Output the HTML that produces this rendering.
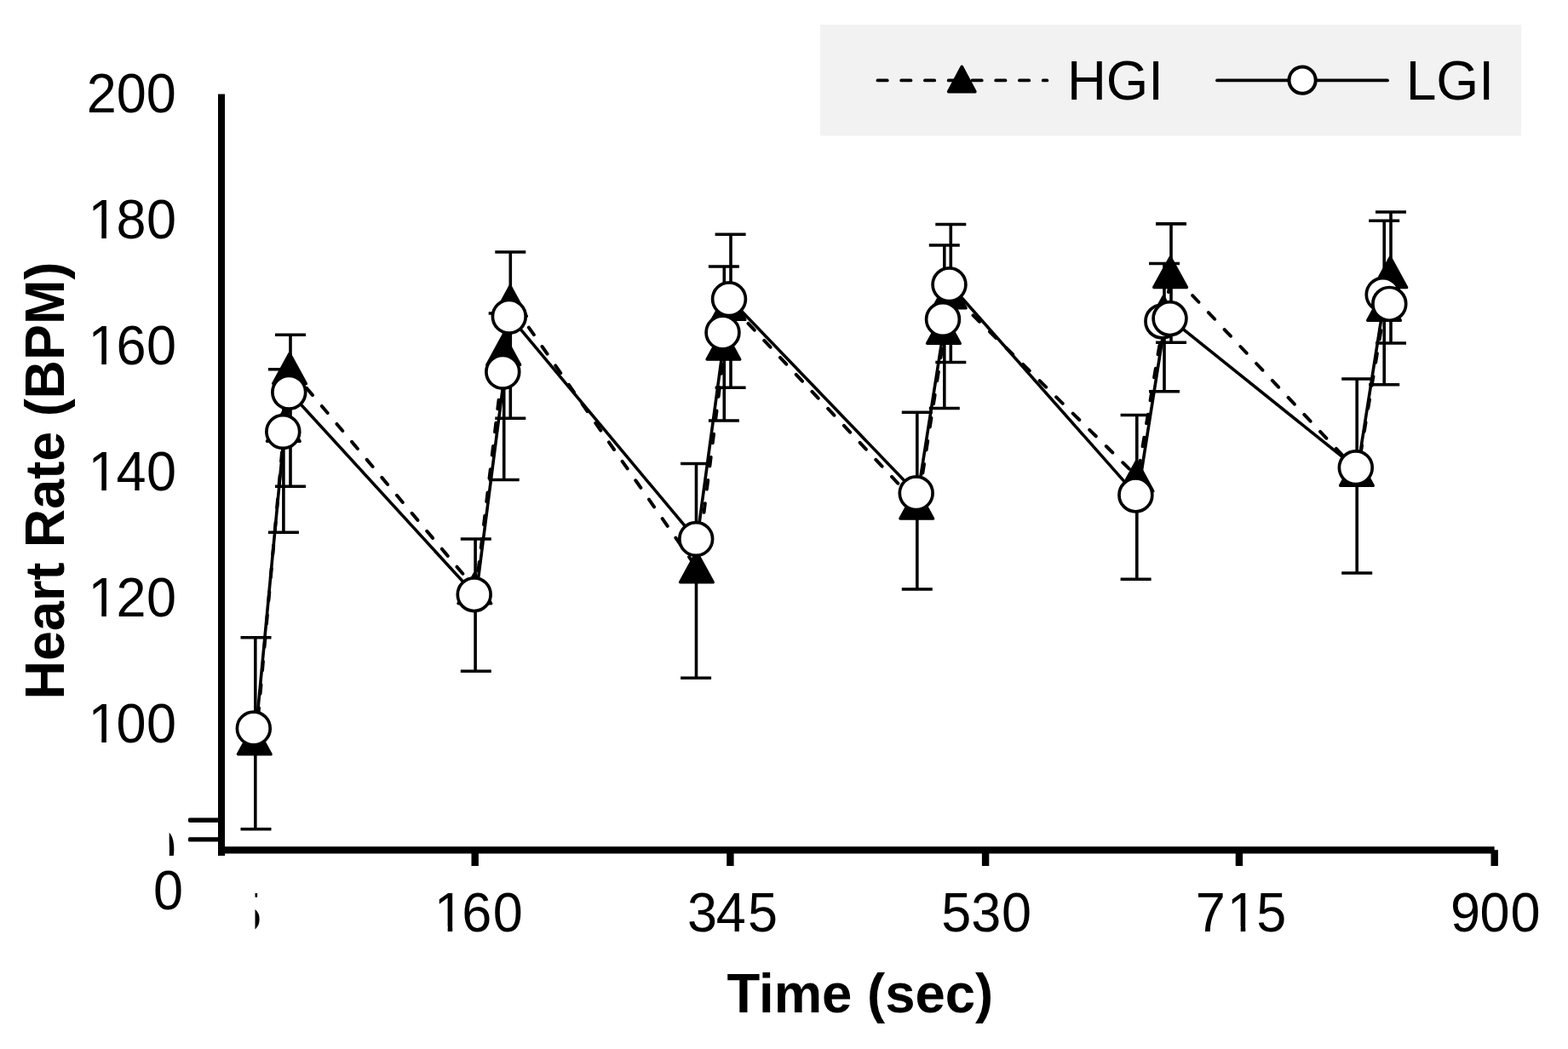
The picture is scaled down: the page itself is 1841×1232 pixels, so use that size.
<!DOCTYPE html>
<html lang="en"><head><meta charset="utf-8"><title>Heart Rate (BPM) vs Time (sec)</title>
<style>html,body{margin:0;padding:0;background:#fff}svg{display:block}text{font-family:"Liberation Sans",sans-serif;fill:#000}.b{font-weight:bold}</style></head><body>
<svg width="1841" height="1232" viewBox="0 0 1841 1232" role="img" aria-label="Heart rate over time for HGI and LGI">
<rect width="1841" height="1232" fill="#fff"/>
<defs>
<clipPath id="cy"><rect x="198.7" y="960" width="12" height="45"/></clipPath>
<clipPath id="cx"><rect x="299.5" y="1040" width="12" height="60"/></clipPath>
</defs>
<rect x="963" y="29" width="823.1" height="130.5" fill="#f2f2f2"/>
<path d="M1030.4 94.4H1229.4" stroke="#000" stroke-width="3.7" stroke-dasharray="11.4 16.35" stroke-linecap="round" fill="none"/>
<path d="M1129.3 78.3L1144.9 107.7H1113.7Z" fill="#000" stroke="#000" stroke-width="3.6" stroke-linejoin="round"/>
<text class="r" font-size="65.4" transform="translate(1252.88 116.5) scale(0.9725 1)">HGI</text>
<path d="M1429 94.4H1629" stroke="#000" stroke-width="3.8" stroke-linecap="round" fill="none"/>
<circle cx="1529.1" cy="94.2" r="15.6" fill="#fff" stroke="#000" stroke-width="4"/>
<text class="r" font-size="65.4" transform="translate(1650.64 116.5) scale(0.9807 1)">LGI</text>
<path d="M260 110.6V1005" stroke="#000" stroke-width="8" fill="none"/>
<path d="M258 998.3H1754.6" stroke="#000" stroke-width="8.2" fill="none"/>
<path d="M557.7 998.2V1016.9M857.4 998.2V1016.9M1157.1 998.2V1016.9M1454.9 998.2V1016.9M1754.7 998.2V1016.9" stroke="#000" stroke-width="8.4" fill="none"/>
<rect x="221" y="960.5" width="38" height="5.4" rx="1.6" fill="#000"/><rect x="221" y="983.2" width="38" height="5.4" rx="1.6" fill="#000"/>
<text class="r" font-size="64.5" transform="translate(101.75 132.3) scale(0.9767 1)">200</text>
<text class="r" font-size="64.5" transform="translate(101.75 280.3) scale(0.9767 1)" dx="1.74 -2.05 0.51">180</text>
<rect x="107" y="275" width="12.29" height="6" fill="#fff"/>
<rect x="124.86" y="275" width="12.14" height="6" fill="#fff"/>
<text class="r" font-size="64.5" transform="translate(101.75 428.4) scale(0.9767 1)" dx="1.74 -2.05 0.51">160</text>
<rect x="107" y="423" width="12.29" height="6" fill="#fff"/>
<rect x="124.86" y="423" width="12.14" height="6" fill="#fff"/>
<text class="r" font-size="64.5" transform="translate(101.75 576.4) scale(0.9767 1)" dx="1.74 -2.05 0.51">140</text>
<rect x="107" y="571" width="12.29" height="6" fill="#fff"/>
<rect x="124.86" y="571" width="12.14" height="6" fill="#fff"/>
<text class="r" font-size="64.5" transform="translate(101.75 724.4) scale(0.9767 1)" dx="1.74 -2.05 0.51">120</text>
<rect x="107" y="719" width="12.29" height="6" fill="#fff"/>
<rect x="124.86" y="719" width="12.14" height="6" fill="#fff"/>
<text class="r" font-size="64.5" transform="translate(101.75 872.4) scale(0.9767 1)" dx="1.74 -2.05 0.51">100</text>
<rect x="107" y="867" width="12.29" height="6" fill="#fff"/>
<rect x="124.86" y="867" width="12.14" height="6" fill="#fff"/>
<text class="r" font-size="64.5" transform="translate(180.02 1068.4) scale(0.9767 1)">0</text>
<g clip-path="url(#cy)"><text class="r" font-size="64.5" transform="translate(171.82 1020.1) scale(0.9767 1)">0</text></g>
<text class="r" font-size="64.5" transform="translate(508.15 1093.7) scale(0.9767 1)" dx="1.74 -2.76 1.48">160</text>
<rect x="513" y="1088" width="12.69" height="6" fill="#fff"/>
<rect x="531.26" y="1088" width="11.74" height="6" fill="#fff"/>
<text class="r" font-size="64.5" transform="translate(808.04 1093.7) scale(0.9767 1)" dx="-1.13 -1.33 2.35">345</text>
<text class="r" font-size="64.5" transform="translate(1105.55 1093.7) scale(0.9767 1)" dx="-0.31 -0.1 0.87">530</text>
<text class="r" font-size="64.5" transform="translate(1405.24 1093.7) scale(0.9767 1)" dx="-1.54 2.15 -0.61">715</text>
<rect x="1444" y="1088" width="12.71" height="6" fill="#fff"/>
<rect x="1462.28" y="1088" width="11.72" height="6" fill="#fff"/>
<text class="r" font-size="64.5" transform="translate(1703.15 1093.7) scale(0.9767 1)" dx="-0.1 -0.72 1.18">900</text>
<g clip-path="url(#cx)"><text class="r" font-size="64.5" transform="translate(272.21 1093.7) scale(0.9767 1)">5</text></g>
<text class="b" font-size="65" transform="translate(853.39 1189.3) scale(0.9766 1)">Time (sec)</text>
<text class="b" font-size="65.6" transform="translate(74.8 821.51) rotate(-90) scale(0.9592 1)">Heart Rate (BPM)</text>
<path d="M299.8 748.75V973.8M282.5 748.75h36M282.5 973.8h36M332.9 433.75V625.25M314.9 433.75h36M314.9 625.25h36M341 393.25V571.25M323 393.25h36M323 571.25h36M558.1 633V788.25M540.8 633h36M540.8 788.25h36M591.7 368V563.5M573.7 368h36M573.7 563.5h36M599.3 296V491.25M581.3 296h36M581.3 491.25h36M817.5 544.5V796.25M799.1 544.5h36M799.1 796.25h36M850.3 313V494M831.9 313h36M831.9 494h36M858 275.25V455.25M839.6 275.25h36M839.6 455.25h36M1076.8 484.25V692M1058.8 484.25h36M1058.8 692h36M1108.8 288V479.5M1090.8 288h36M1090.8 479.5h36M1116.3 263.5V425.5M1098.3 263.5h36M1098.3 425.5h36M1334.8 487.5V680.25M1315.6 487.5h36M1315.6 680.25h36M1367 309.5V459.75M1349 309.5h36M1349 459.75h36M1375 262.9V402.25M1357 262.9h36M1357 402.25h36M1593.2 445V673M1575.2 445h36M1575.2 673h36M1625.2 259.25V451.75M1607.2 259.25h36M1607.2 451.75h36M1633 249V403M1615 249h36M1615 403h36" stroke="#000" stroke-width="3.6" fill="none"/>
<g fill="none" stroke="#000" stroke-width="4.0" stroke-dasharray="10.6 16.8" stroke-linecap="round"><path d="M300.6 869.35L333.7 501.85" stroke-dashoffset="0"/><path d="M333.7 501.85L341.8 434.1" stroke-dashoffset="12.79"/><path d="M341.8 434.1L558.9 692.35" stroke-dashoffset="26.22"/><path d="M558.9 692.35L592.5 411.85" stroke-dashoffset="5.5"/><path d="M592.5 411.85L600.1 354.85" stroke-dashoffset="15.91"/><path d="M600.1 354.85L818.3 667.35" stroke-dashoffset="18.61"/><path d="M818.3 667.35L851.1 405.6" stroke-dashoffset="16.15"/><path d="M851.1 405.6L858.8 358.85" stroke-dashoffset="5.95"/><path d="M858.8 358.85L1077.6 592.6" stroke-dashoffset="25.93"/><path d="M1077.6 592.6L1109.6 386.85" stroke-dashoffset="17.3"/><path d="M1109.6 386.85L1117.1 345.3" stroke-dashoffset="6.33"/><path d="M1117.1 345.3L1335.6 560.3" stroke-dashoffset="19.15"/><path d="M1335.6 560.3L1367.8 367.1" stroke-dashoffset="18.29"/><path d="M1367.8 367.1L1375.8 321" stroke-dashoffset="2.95"/><path d="M1375.8 321L1594 553.85" stroke-dashoffset="19.14"/><path d="M1594 553.85L1626 359.85" stroke-dashoffset="7.05"/><path d="M1626 359.85L1633.8 321.1" stroke-dashoffset="17.47"/></g>
<polyline points="300.6,857.2 333.7,508.7 341.8,462.45 558.9,699.9 592.5,438.45 600.1,373.45 818.3,634.7 851.1,392.2 858.8,352.95 1077.6,580.95 1109.6,376.7 1117.1,335.95 1335.6,583.1 1367.8,379.1 1375.8,375.8 1594,550.95 1626,347.7 1633.8,358.6" fill="none" stroke="#000" stroke-width="3.6" stroke-linejoin="round"/>
<path d="M298.75 850.7l19.25 35.1h-38.5Z" fill="#000" stroke="#000" stroke-width="3.6" stroke-linejoin="round"/>
<path d="M332.75 483.2l19.25 35.1h-38.5Z" fill="#000" stroke="#000" stroke-width="3.6" stroke-linejoin="round"/>
<path d="M340 415.45l19.25 35.1h-38.5Z" fill="#000" stroke="#000" stroke-width="3.6" stroke-linejoin="round"/>
<path d="M557.3 673.7l19.25 35.1h-38.5Z" fill="#000" stroke="#000" stroke-width="3.6" stroke-linejoin="round"/>
<path d="M591.25 393.2l19.25 35.1h-38.5Z" fill="#000" stroke="#000" stroke-width="3.6" stroke-linejoin="round"/>
<path d="M599 336.2l19.25 35.1h-38.5Z" fill="#000" stroke="#000" stroke-width="3.6" stroke-linejoin="round"/>
<path d="M817.9 648.7l19.25 35.1h-38.5Z" fill="#000" stroke="#000" stroke-width="3.6" stroke-linejoin="round"/>
<path d="M849.4 386.95l19.25 35.1h-38.5Z" fill="#000" stroke="#000" stroke-width="3.6" stroke-linejoin="round"/>
<path d="M855.5 340.2l19.25 35.1h-38.5Z" fill="#000" stroke="#000" stroke-width="3.6" stroke-linejoin="round"/>
<path d="M1076.25 573.95l19.25 35.1h-38.5Z" fill="#000" stroke="#000" stroke-width="3.6" stroke-linejoin="round"/>
<path d="M1107.9 368.2l19.25 35.1h-38.5Z" fill="#000" stroke="#000" stroke-width="3.6" stroke-linejoin="round"/>
<path d="M1114.8 326.65l19.25 35.1h-38.5Z" fill="#000" stroke="#000" stroke-width="3.6" stroke-linejoin="round"/>
<path d="M1334.5 541.65l19.25 35.1h-38.5Z" fill="#000" stroke="#000" stroke-width="3.6" stroke-linejoin="round"/>
<path d="M1366 348.45l19.25 35.1h-38.5Z" fill="#000" stroke="#000" stroke-width="3.6" stroke-linejoin="round"/>
<path d="M1374.1 302.35l19.25 35.1h-38.5Z" fill="#000" stroke="#000" stroke-width="3.6" stroke-linejoin="round"/>
<path d="M1592.9 535.2l19.25 35.1h-38.5Z" fill="#000" stroke="#000" stroke-width="3.6" stroke-linejoin="round"/>
<path d="M1625 341.2l19.25 35.1h-38.5Z" fill="#000" stroke="#000" stroke-width="3.6" stroke-linejoin="round"/>
<path d="M1632.3 302.45l19.25 35.1h-38.5Z" fill="#000" stroke="#000" stroke-width="3.6" stroke-linejoin="round"/>
<circle cx="297.8" cy="855.5" r="19.4" fill="#fff" stroke="#000" stroke-width="3.7"/>
<circle cx="332.3" cy="507" r="19.4" fill="#fff" stroke="#000" stroke-width="3.7"/>
<circle cx="339.3" cy="460.75" r="19.4" fill="#fff" stroke="#000" stroke-width="3.7"/>
<circle cx="556.7" cy="698.2" r="19.4" fill="#fff" stroke="#000" stroke-width="3.7"/>
<circle cx="590.3" cy="436.75" r="19.4" fill="#fff" stroke="#000" stroke-width="3.7"/>
<circle cx="597.8" cy="371.75" r="19.4" fill="#fff" stroke="#000" stroke-width="3.7"/>
<circle cx="817.2" cy="633" r="19.4" fill="#fff" stroke="#000" stroke-width="3.7"/>
<circle cx="848.5" cy="390.5" r="19.4" fill="#fff" stroke="#000" stroke-width="3.7"/>
<circle cx="856" cy="351.25" r="19.4" fill="#fff" stroke="#000" stroke-width="3.7"/>
<circle cx="1075.7" cy="579.25" r="19.4" fill="#fff" stroke="#000" stroke-width="3.7"/>
<circle cx="1107" cy="375" r="19.4" fill="#fff" stroke="#000" stroke-width="3.7"/>
<circle cx="1114.5" cy="334.25" r="19.4" fill="#fff" stroke="#000" stroke-width="3.7"/>
<circle cx="1333.4" cy="581.4" r="19.4" fill="#fff" stroke="#000" stroke-width="3.7"/>
<circle cx="1364.4" cy="377.4" r="19.4" fill="#fff" stroke="#000" stroke-width="3.7"/>
<circle cx="1373.5" cy="374.1" r="19.4" fill="#fff" stroke="#000" stroke-width="3.7"/>
<circle cx="1591.8" cy="549.25" r="19.4" fill="#fff" stroke="#000" stroke-width="3.7"/>
<circle cx="1623.7" cy="346" r="19.4" fill="#fff" stroke="#000" stroke-width="3.7"/>
<circle cx="1631.3" cy="356.9" r="19.4" fill="#fff" stroke="#000" stroke-width="3.7"/>
</svg></body></html>
